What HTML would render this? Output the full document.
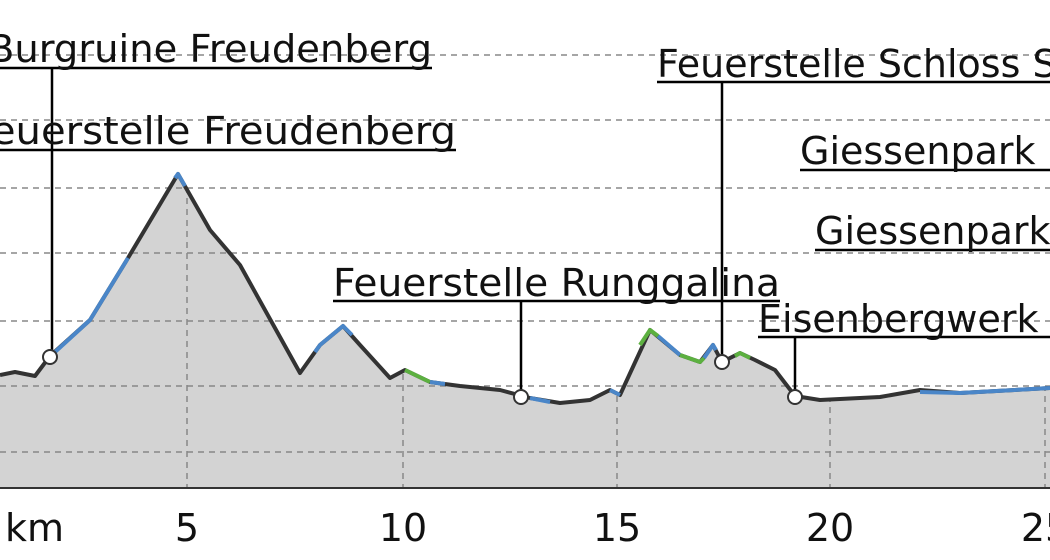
<!DOCTYPE html>
<html><head><style>body{margin:0;background:#fff;}svg{display:block}</style></head><body>
<svg width="1050" height="560" viewBox="0 0 1050 560" xmlns="http://www.w3.org/2000/svg" font-family="DejaVu Sans, Liberation Sans, sans-serif" font-size="38">
<defs><clipPath id="c"><path id="area" d="M0,375 L15,372 L35,376 L50,356 L90,320 L128,258 L178,174 L210,230 L240,265 L300,373 L320,345 L343,326 L360,345 L390,378 L405,370 L430,382 L460,386 L500,390 L530,398 L560,403 L590,400 L610,390 L620,395 L650,330 L680,355 L700,362 L713,345 L722,362 L740,353 L755,360 L775,370 L795,396 L820,400 L880,397 L920,390 L960,393 L1050,388 L1050,488 L0,488 Z"/></clipPath></defs>
<use href="#area" fill="#d3d3d3"/>
<g stroke="#888" stroke-width="1.5" stroke-dasharray="6,5" fill="none">
<path d="M0,55H1050M0,120H1050M0,188H1050M0,253H1050M0,321H1050M0,386H1050M0,452H1050"/>
<path clip-path="url(#c)" d="M187,0V488M403,0V488M617,0V488M830,0V488M1045,0V488"/>
</g>
<path d="M0,375 L15,372 L35,376 L50,356 L90,320 L128,258 L178,174 L210,230 L240,265 L300,373 L320,345 L343,326 L360,345 L390,378 L405,370 L430,382 L460,386 L500,390 L530,398 L560,403 L590,400 L610,390 L620,395 L650,330 L680,355 L700,362 L713,345 L722,362 L740,353 L755,360 L775,370 L795,396 L820,400 L880,397 L920,390 L960,393 L1050,388" fill="none" stroke="#333" stroke-width="4" stroke-linejoin="round"/>
<g fill="none" stroke-width="4" stroke-linejoin="round">
<path d="M55,352 L90,320 L128,258" stroke="#4a86c8"/>
<path d="M175,178 L178,174 L185,186" stroke="#4a86c8"/>
<path d="M315,352 L320,345 L343,326 L352,335" stroke="#4a86c8"/>
<path d="M405,370 L430,382" stroke="#5cb040"/>
<path d="M430,382 L445,384" stroke="#4a86c8"/>
<path d="M530,398 L550,402" stroke="#4a86c8"/>
<path d="M610,390 L620,395" stroke="#4a86c8"/>
<path d="M640,345 L650,330 L658,336" stroke="#5cb040"/>
<path d="M658,336 L680,355" stroke="#4a86c8"/>
<path d="M680,355 L700,362 L704,358" stroke="#5cb040"/>
<path d="M704,358 L713,345 L716,350" stroke="#4a86c8"/>
<path d="M735,356 L740,353 L750,358" stroke="#5cb040"/>
<path d="M920,392 L960,393 L1050,388" stroke="#4a86c8"/>
</g>
<path d="M0,488H1050" stroke="#333" stroke-width="2"/>
<g stroke="#000" stroke-width="2.5" fill="none">
<path d="M-10,68H432M52,68V350"/>
<path d="M-10,150H456"/>
<path d="M333,301H780M521,301V391"/>
<path d="M657,82H1050M722,82V356"/>
<path d="M800,170H1050"/>
<path d="M815,250H1050"/>
<path d="M758,337H1050M795,337V390"/>
</g>
<g fill="#fff" stroke="#333" stroke-width="2">
<circle cx="50" cy="357" r="7"/><circle cx="521" cy="397" r="7"/><circle cx="722" cy="362" r="7"/><circle cx="795" cy="397" r="7"/>
</g>
<g fill="#111">
<text x="-12" y="62" textLength="444" lengthAdjust="spacingAndGlyphs">Burgruine Freudenberg</text>
<text x="-30" y="144" textLength="486" lengthAdjust="spacingAndGlyphs">Feuerstelle Freudenberg</text>
<text x="333" y="296" textLength="447" lengthAdjust="spacingAndGlyphs">Feuerstelle Runggalina</text>
<text x="657" y="77">Feuerstelle Schloss S</text>
<text x="800" y="164">Giessenpark</text>
<text x="815" y="244">Giessenpark</text>
<text x="758" y="332">Eisenbergwerk</text>
<text x="5" y="541">km</text>
<text x="187" y="541" text-anchor="middle">5</text>
<text x="403" y="541" text-anchor="middle">10</text>
<text x="617" y="541" text-anchor="middle">15</text>
<text x="830" y="541" text-anchor="middle">20</text>
<text x="1045" y="541" text-anchor="middle">25</text>
</g>
</svg>
</body></html>
